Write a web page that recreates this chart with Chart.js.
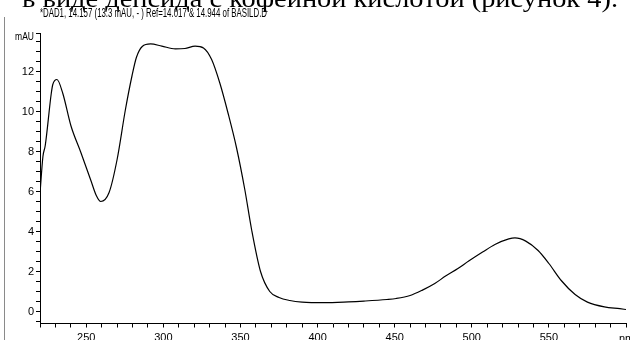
<!DOCTYPE html>
<html>
<head>
<meta charset="utf-8">
<script src="https://cdn.jsdelivr.net/npm/chart.js@4.4.1/dist/chart.umd.min.js"></script>
<style>
  html, body { margin: 0; padding: 0; background: #fff; }
  canvas { display: block; }
</style>
</head>
<body>
<canvas id="spectrum" width="630" height="340"></canvas>
<script>
// UV-Vis spectrum, DAD1 at 14.157 min
const wavelengths = [220, 221.9, 223.4, 227.3, 228.3, 231, 234.8, 240, 246.5, 253, 256.5, 259.4, 264.8, 270, 275.4, 279.7, 282.5, 286.3, 291.7, 299, 307.8, 314, 320.6, 326, 331.3, 336.7, 342, 347.4, 352.8, 357.2, 363, 369, 375, 382, 390, 404, 420, 430, 445, 451, 460, 468, 476, 483, 491, 498, 507, 515, 524, 528, 535, 543, 550, 558, 567, 575, 586, 596, 600];
const absorbance = [5.9, 7.75, 8.3, 10.9, 11.35, 11.6, 10.9, 9.3, 7.95, 6.55, 5.8, 5.5, 5.95, 7.6, 10.1, 11.8, 12.7, 13.25, 13.38, 13.27, 13.13, 13.15, 13.27, 13.18, 12.6, 11.4, 9.9, 8.2, 6.1, 4.1, 2.0, 1.0, 0.7, 0.55, 0.47, 0.44, 0.48, 0.52, 0.6, 0.65, 0.8, 1.07, 1.4, 1.77, 2.15, 2.52, 2.97, 3.35, 3.63, 3.68, 3.52, 3.05, 2.4, 1.55, 0.85, 0.47, 0.23, 0.14, 0.1];

const xTickLabels = [250, 300, 350, 400, 450, 500, 550];
const yTickLabels = [0, 2, 4, 6, 8, 10, 12];
const xMinorStep = 10;
const yMinorStep = 0.5;

const titleText = '*DAD1, 14.157 (13.3 mAU, - ) Ref=14.017 & 14.944 of BASILD.D';
const pageText = 'в виде депсида с кофейной кислотой (рисунок 4).';

const narrow = "'Liberation Sans Narrow', 'Liberation Sans', Arial, sans-serif";

const decorations = {
  id: 'decorations',
  afterDraw(chart) {
    const ctx = chart.ctx;
    ctx.save();
    // scanned page border
    ctx.strokeStyle = '#8a8a8a';
    ctx.lineWidth = 1;
    ctx.beginPath();
    ctx.moveTo(4.5, 17);
    ctx.lineTo(4.5, 340);
    ctx.stroke();

    // body text of the page, cut off at the top
    ctx.fillStyle = '#000';
    ctx.font = "26px 'Liberation Serif', 'Times New Roman', serif";
    ctx.textBaseline = 'alphabetic';
    let w = ctx.measureText(pageText).width;
    ctx.save();
    ctx.translate(22, 7);
    ctx.scale(596 / w, 1);
    ctx.fillText(pageText, 0, 0);
    ctx.restore();

    // chromatogram title
    ctx.font = '12px ' + narrow;
    ctx.textBaseline = 'middle';
    w = ctx.measureText(titleText).width;
    ctx.save();
    ctx.translate(40, 14);
    ctx.scale(227 / w, 1);
    ctx.fillText(titleText, 0, 0);
    ctx.restore();

    // unit labels
    ctx.font = '10px ' + narrow;
    ctx.textAlign = 'right';
    ctx.save();
    ctx.translate(34, 37);
    ctx.scale(0.85, 1);
    ctx.fillText('mAU', 0, 0);
    ctx.restore();
    ctx.textAlign = 'left';
    ctx.font = '11px ' + narrow;
    ctx.fillText('nm', 619, 339);
    ctx.restore();
  }
};

new Chart(document.getElementById('spectrum'), {
  type: 'line',
  data: {
    datasets: [{
      data: wavelengths.map((x, i) => ({ x: x, y: absorbance[i] })),
      borderColor: '#000',
      borderWidth: 1.2,
      pointRadius: 0,
      cubicInterpolationMode: 'monotone',
      fill: false
    }]
  },
  options: {
    responsive: false,
    animation: false,
    layout: { padding: { top: 33.5, right: 0, left: 0, bottom: 0 } },
    plugins: {
      legend: { display: false },
      tooltip: { enabled: false }
    },
    scales: {
      x: {
        type: 'linear',
        min: 220,
        max: 600,
        afterBuildTicks: (scale) => {
          const t = [];
          for (let v = scale.min; v <= scale.max; v += xMinorStep) t.push({ value: v });
          scale.ticks = t;
        },
        afterFit: (scale) => { scale.height = 16.5; },
        ticks: {
          autoSkip: false,
          maxRotation: 0,
          padding: 4,
          color: '#000',
          font: { family: narrow, size: 11 },
          callback: (v) => xTickLabels.includes(v) ? String(v) : ''
        },
        grid: { drawOnChartArea: false, tickLength: 4, color: '#000' },
        border: { color: '#000', width: 1 }
      },
      y: {
        min: -0.6,
        max: 13.9,
        afterBuildTicks: (scale) => {
          const t = [];
          for (let v = -0.5; v <= 13.5; v += yMinorStep) t.push({ value: v });
          t.push({ value: scale.max });
          scale.ticks = t;
        },
        afterFit: (scale) => { scale.width = 40; },
        ticks: {
          autoSkip: false,
          padding: 2,
          color: '#000',
          font: { family: narrow, size: 11 },
          callback: (v) => yTickLabels.includes(v) ? String(v) : ''
        },
        grid: { drawOnChartArea: false, tickLength: 4, color: '#000' },
        border: { color: '#000', width: 1 }
      }
    }
  },
  plugins: [decorations]
});
</script>
</body>
</html>
